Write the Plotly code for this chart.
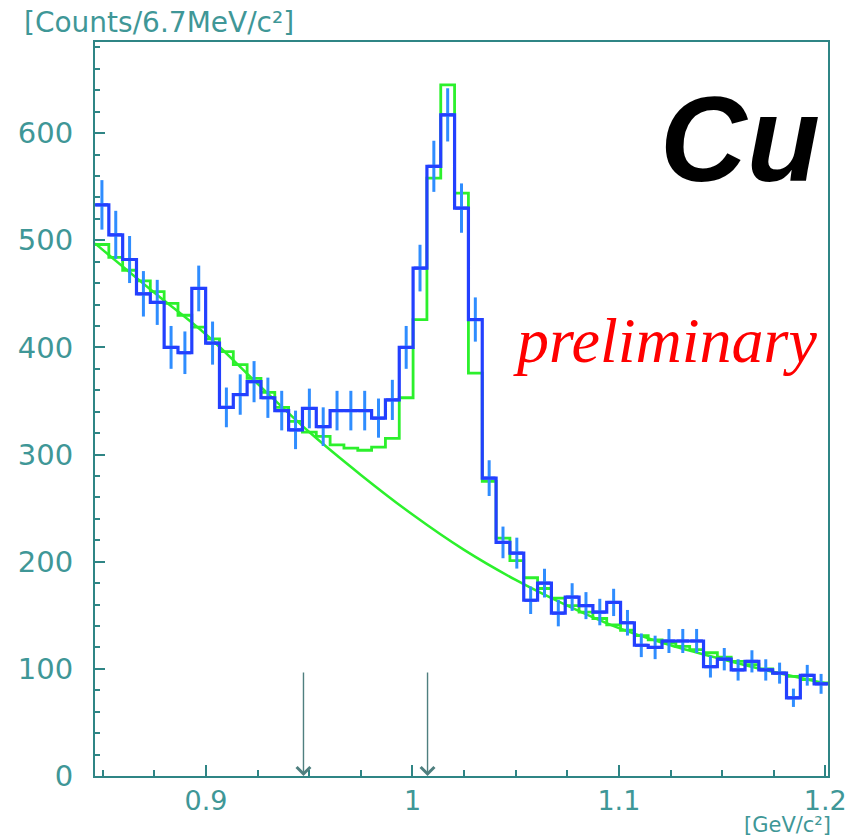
import numpy as np
import plotly.graph_objects as go

# Invariant-mass histogram (K+K- pairs), Cu target
bin_lo = 0.8462          # GeV/c^2, lower edge of first bin
bin_w = 0.0067           # GeV/c^2 per bin

# Measured counts per bin
counts = [533, 505, 482, 450, 442, 400, 395, 455, 404, 344,
          356, 368, 353, 341, 323, 343, 326, 341, 341, 341,
          334, 351, 400, 474, 569, 617, 530, 426, 278, 218,
          208, 164, 180, 152, 167, 159, 153, 162, 143, 122,
          120, 126, 126, 126, 102, 109, 99, 107, 99, 96,
          73, 94, 86]

# Fitted signal + background, integrated per bin
fit_bins = [496, 484, 472, 462, 452, 441, 430, 419, 408, 396,
            384, 371, 358, 344, 331, 321, 317, 309, 306, 304,
            307, 315, 353, 426, 558, 645, 544, 376, 275, 222,
            201, 185, 175, 166, 159, 153, 147, 141, 136, 131,
            127, 124, 121, 118, 115, 111, 107, 104, 100, 96,
            93, 90, 87]

# Background component of the fit (smooth curve)
bkg_mass = [0.8462, 0.875, 0.900, 0.925, 0.950, 0.975, 1.000, 1.025,
            1.050, 1.075, 1.100, 1.125, 1.150, 1.175, 1.2013]
bkg_counts = [497, 451, 412, 366, 321, 281, 244, 211,
              183, 159, 138, 122, 109, 97, 86]

# Mass-window markers
window_mass = [0.9472, 1.0073]
window_height = 98

x_ticks = [0.9, 1.0, 1.1, 1.2]
x_ticktext = ["0.9", "1", "1.1", "1.2"]
y_ticks = [0, 100, 200, 300, 400, 500, 600]

n = len(counts)
edges = bin_lo + bin_w * np.arange(n + 1)
centers = 0.5 * (edges[:-1] + edges[1:])
x_max = edges[-1]

teal = "#3f9797"
axis_col = "#2f8585"
blue_line = "#2340ff"
blue_err = "#2f8dff"
green = "#2cf02c"

fig = go.Figure()

# background curve
fig.add_trace(go.Scatter(
    x=bkg_mass, y=bkg_counts, mode="lines", line_shape="spline",
    line=dict(color=green, width=2.5), hoverinfo="skip", showlegend=False))

# fit histogram
fig.add_trace(go.Scatter(
    x=list(edges), y=list(fit_bins) + [fit_bins[-1]], mode="lines",
    line_shape="hv", line=dict(color=green, width=2.8),
    hoverinfo="skip", showlegend=False))

# data histogram
fig.add_trace(go.Scatter(
    x=list(edges), y=list(counts) + [counts[-1]], mode="lines",
    line_shape="hv", line=dict(color=blue_line, width=3.2),
    hoverinfo="skip", showlegend=False))

# statistical errors
fig.add_trace(go.Scatter(
    x=centers, y=counts, mode="markers",
    marker=dict(symbol="line-ew", size=9, color=blue_line,
                line=dict(color=blue_line, width=3)),
    error_y=dict(type="data", array=np.sqrt(counts), color=blue_err,
                 thickness=3, width=0),
    showlegend=False))

annotations = []
for m in window_mass:
    annotations.append(dict(
        x=m, y=0, xref="x", yref="y", ax=m, ay=window_height,
        axref="x", ayref="y", text="", showarrow=True,
        arrowhead=4, arrowsize=1.9, arrowwidth=1.4, arrowcolor="#4f7f7f",
        standoff=0))

annotations += [
    dict(text="[Counts/6.7MeV/c²]", xref="paper", yref="paper",
         x=-0.099, y=1.026, xanchor="left", yanchor="middle", showarrow=False,
         font=dict(family="DejaVu Sans", size=28, color=teal)),
    dict(text="[GeV/c²]", xref="paper", yref="paper",
         x=1.007, y=-0.0858, xanchor="right", yanchor="bottom", showarrow=False,
         font=dict(family="DejaVu Sans", size=21, color=teal)),
    dict(text="<b><i>Cu</i></b>", xref="paper", yref="paper",
         x=0.992, y=0.868, xanchor="right", yanchor="middle", showarrow=False,
         font=dict(family="Liberation Sans", size=120, color="black")),
    dict(text="<i>preliminary</i>", xref="paper", yref="paper",
         x=0.988, y=0.593, xanchor="right", yanchor="middle", showarrow=False,
         font=dict(family="Liberation Serif", size=64, color="#ff0000")),
]

fig.update_layout(
    width=861, height=839,
    margin=dict(l=95, r=33, t=42, b=63),
    paper_bgcolor="white", plot_bgcolor="white",
    annotations=annotations,
    showlegend=False,
)

fig.update_xaxes(
    range=[bin_lo, x_max], tickvals=x_ticks, ticktext=x_ticktext,
    showgrid=False, zeroline=False,
    showline=True, linecolor=axis_col, linewidth=2, mirror=True,
    ticks="inside", ticklen=11, tickwidth=1.5, tickcolor=axis_col,
    minor=dict(dtick=0.025, tick0=0.9, ticks="inside", ticklen=6,
               tickwidth=1.5, tickcolor=axis_col, showgrid=False),
    tickfont=dict(family="DejaVu Sans", size=27, color=teal),
    ticklabelstandoff=0,
)
fig.update_yaxes(
    range=[0, 685], tickvals=y_ticks,
    showgrid=False, zeroline=False,
    showline=True, linecolor=axis_col, linewidth=2, mirror=True,
    ticks="inside", ticklen=10, tickwidth=1.5, tickcolor=axis_col,
    minor=dict(dtick=20, ticks="inside", ticklen=5, tickwidth=1.5,
               tickcolor=axis_col, showgrid=False),
    tickfont=dict(family="DejaVu Sans", size=29, color=teal),
    ticklabelstandoff=14,
)

fig.write_html("out.html")
